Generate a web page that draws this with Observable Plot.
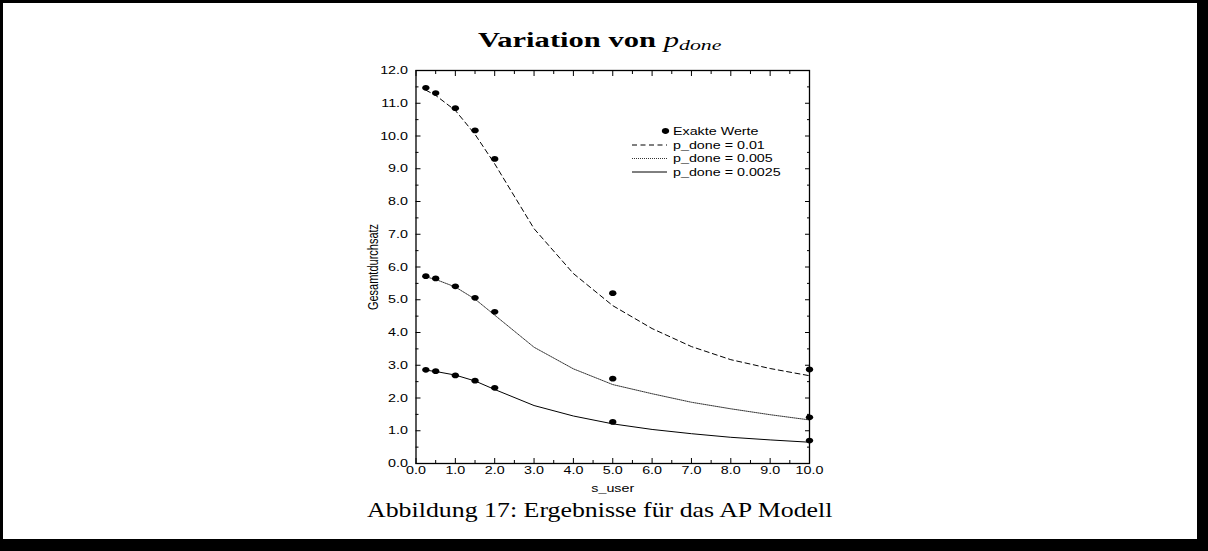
<!DOCTYPE html>
<html><head><meta charset="utf-8">
<script src="https://cdn.jsdelivr.net/npm/d3@7"></script>
<script src="https://cdn.jsdelivr.net/npm/@observablehq/plot@0.6"></script>
<style>
body{margin:0;background:#fff;}
#page{position:relative;width:1208px;height:551px;background:#000;overflow:hidden;}
#sheet{position:absolute;left:3px;top:3px;width:1194px;height:536px;background:#fff;}
#chart{position:absolute;left:0;top:55px;}
#overlay{position:absolute;left:0;top:0;}
</style></head>
<body><div id="page"><div id="sheet"></div><div id="chart"></div><svg id="overlay" width="1208" height="551"></svg></div>
<script>
// ---- data ----
const sUserExact = [0.25, 0.5, 1, 1.5, 2, 5, 10];
const exactHigh  = [11.47, 11.31, 10.85, 10.17, 9.30, 5.20, 2.87];
const exactMid   = [5.72, 5.65, 5.41, 5.06, 4.63, 2.59, 1.41];
const exactLow   = [2.86, 2.82, 2.69, 2.53, 2.31, 1.27, 0.70];

const sUserModel = [0.25, 0.5, 1, 1.5, 2, 3, 4, 5, 6, 7, 8, 9, 10];
const model001   = [11.40, 11.24, 10.78, 10.05, 9.15, 7.17, 5.80, 4.82, 4.12, 3.57, 3.17, 2.90, 2.68];
const model0005  = [5.70, 5.62, 5.39, 5.02, 4.53, 3.55, 2.89, 2.41, 2.13, 1.87, 1.67, 1.49, 1.33];
const model00025 = [2.85, 2.81, 2.70, 2.52, 2.26, 1.77, 1.45, 1.21, 1.04, 0.91, 0.80, 0.72, 0.65];

const xTicks = [0, 1, 2, 3, 4, 5, 6, 7, 8, 9, 10];
const xMinor = [0.5, 1.5, 2.5, 3.5, 4.5, 5.5, 6.5, 7.5, 8.5, 9.5];
const yTicks = [0, 1, 2, 3, 4, 5, 6, 7, 8, 9, 10, 11, 12];
const yMinor = [0.5, 1.5, 2.5, 3.5, 4.5, 5.5, 6.5, 7.5, 8.5, 9.5, 10.5, 11.5];

const legendLabels = ["Exakte Werte", "p_done = 0.01", "p_done = 0.005", "p_done = 0.0025"];
const titleMain = "Variation von ";
const titleVar = "p";
const titleSub = "done";
const captionText = "Abbildung 17: Ergebnisse für das AP Modell";
const xLabel = "s_user";
const yLabel = "Gesamtdurchsatz";

// ---- tables ----
const exact = [];
[exactHigh, exactMid, exactLow].forEach(arr => arr.forEach((v, i) => exact.push({x: sUserExact[i], y: v})));
const mk = arr => arr.map((v, i) => ({x: sUserModel[i], y: v}));
const lineHigh = mk(model001), lineMid = mk(model0005), lineLow = mk(model00025);

const SX = 1.3; // horizontal stretch of the sans text, as in the reference
const ellipse = {draw(ctx) {
  const rx = 3.7, ry = 2.9, k = 0.5523;
  ctx.moveTo(rx, 0);
  ctx.bezierCurveTo(rx, ry*k, rx*k, ry, 0, ry);
  ctx.bezierCurveTo(-rx*k, ry, -rx, ry*k, -rx, 0);
  ctx.bezierCurveTo(-rx, -ry*k, -rx*k, -ry, 0, -ry);
  ctx.bezierCurveTo(rx*k, -ry, rx, -ry*k, rx, 0);
  ctx.closePath();
}};
const fmt = d3.format(".1f");
const blank = () => "";

const plot = Plot.plot({
  width: 1208, height: 450,
  marginLeft: 415.5, marginRight: 399, marginTop: 15, marginBottom: 42,
  style: {fontFamily: "'Liberation Sans', Arial, sans-serif", fontSize: "11px", background: "transparent", overflow: "visible", color: "black"},
  x: {domain: [0, 10]},
  y: {domain: [0, 12]},
  marks: [
    Plot.line(lineHigh, {x: "x", y: "y", stroke: "black", strokeWidth: 1, strokeDasharray: "5,3.5"}),
    Plot.line(lineMid, {x: "x", y: "y", stroke: "black", strokeWidth: 0.8, strokeDasharray: "1,1"}),
    Plot.line(lineLow, {x: "x", y: "y", stroke: "black", strokeWidth: 1}),
    Plot.dot(exact, {x: "x", y: "y", symbol: ellipse, fill: "black", stroke: "none"}),
    Plot.frame({stroke: "black", strokeWidth: 1.3}),
    Plot.axisX(xTicks, {anchor: "bottom", tickSize: 0, tickPadding: 3, tickFormat: fmt, label: xLabel, labelAnchor: "center", labelOffset: 28, labelArrow: "none"}),
    Plot.axisX(xTicks, {anchor: "bottom", tickSize: -5, tickFormat: blank, label: null}),
    Plot.axisX(xMinor, {anchor: "bottom", tickSize: -3, tickFormat: blank, label: null}),
    Plot.axisX(xTicks, {anchor: "top", tickSize: -5, tickFormat: blank, label: null}),
    Plot.axisX(xMinor, {anchor: "top", tickSize: -3, tickFormat: blank, label: null}),
    Plot.axisY(yTicks, {anchor: "left", tickSize: 0, tickPadding: 8, tickFormat: fmt, label: yLabel, labelAnchor: "center", labelOffset: 48, labelArrow: "none"}),
    Plot.axisY(yTicks, {anchor: "left", tickSize: -5, tickFormat: blank, label: null}),
    Plot.axisY(yMinor, {anchor: "left", tickSize: -3, tickFormat: blank, label: null}),
    Plot.axisY(yTicks, {anchor: "right", tickSize: -5, tickFormat: blank, label: null}),
    Plot.axisY(yMinor, {anchor: "right", tickSize: -3, tickFormat: blank, label: null})
  ]
});
document.getElementById("chart").appendChild(plot);

// stretch sans text horizontally around its anchor
const NS = "http://www.w3.org/2000/svg";
function stretch(root, sx) {
  root.querySelectorAll("text").forEach(t => {
    if (!t.textContent) return;
    const x = parseFloat(t.getAttribute("x")) || 0, y = parseFloat(t.getAttribute("y")) || 0;
    let px = x;
    const list = t.transform.baseVal;
    if (list.numberOfItems) { const m = list.consolidate().matrix; px = m.a*x + m.c*y + m.e; }
    const g = document.createElementNS(NS, "g");
    g.setAttribute("transform", `translate(${px},0) scale(${sx},1) translate(${-px},0)`);
    t.parentNode.insertBefore(g, t); g.appendChild(t);
  });
}
stretch(plot, SX);

// ---- overlay: title, caption, legend ----
const ov = d3.select("#overlay");
function fitText(sel, x0, x1) {
  const b = sel.node().getBBox();
  const s = (x1 - x0) / b.width;
  sel.attr("transform", `translate(${x0},0) scale(${s},1) translate(${-b.x},0)`);
}
const title = ov.append("text").attr("x", 0).attr("y", 47)
  .attr("font-family", "'Liberation Serif', 'Times New Roman', serif").attr("font-size", 21).attr("fill", "black");
title.append("tspan").attr("font-weight", "bold").text(titleMain);
title.append("tspan").attr("font-style", "italic").text(titleVar);
title.append("tspan").attr("font-style", "italic").attr("font-size", 15).attr("dy", 3).text(titleSub);
fitText(title, 478, 722);

const cap = ov.append("text").attr("x", 0).attr("y", 517)
  .attr("font-family", "'Liberation Serif', 'Times New Roman', serif").attr("font-size", 21).attr("fill", "black")
  .text(captionText);
fitText(cap, 367, 833);

const leg = ov.append("g").attr("font-family", "'Liberation Sans', Arial, sans-serif").attr("font-size", 11);
const rowsY = [131, 145, 158.5, 172];
const dashes = [null, "5,3.5", "1,1", null];
const widths = [0, 1, 0.8, 1];
legendLabels.forEach((lab, i) => {
  if (i === 0) {
    leg.append("path").attr("d", d3.symbol().type(ellipse)()).attr("transform", `translate(665.5,${rowsY[i]})`).attr("fill", "black");
  } else {
    leg.append("line").attr("x1", 632).attr("x2", 667).attr("y1", rowsY[i]).attr("y2", rowsY[i])
      .attr("stroke", "black").attr("stroke-width", widths[i]).attr("stroke-dasharray", dashes[i]);
  }
  leg.append("text").attr("x", 673).attr("y", rowsY[i]).attr("dy", "0.35em").attr("fill", "black").text(lab);
});
stretch(leg.node(), SX);
</script>
</body></html>
